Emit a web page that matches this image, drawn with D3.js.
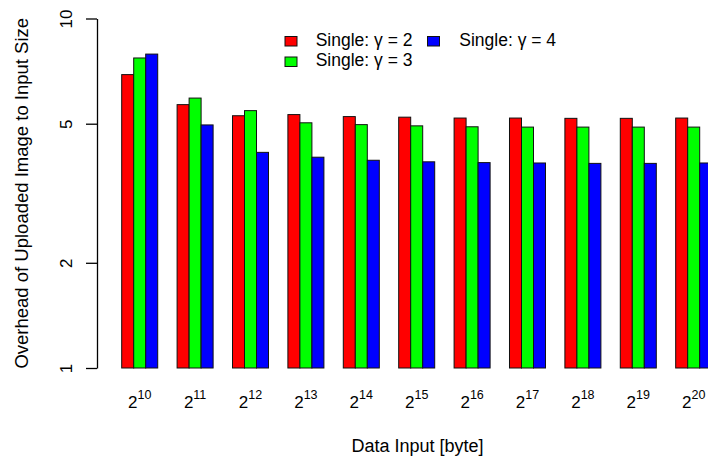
<!DOCTYPE html>
<html>
<head>
<meta charset="utf-8">
<script src="https://cdn.jsdelivr.net/npm/d3@7"></script>
<style>
  html, body { margin: 0; padding: 0; background: #fff; }
  svg { display: block; font-family: "Liberation Sans", Arial, sans-serif; }
</style>
</head>
<body>
<svg id="chart" width="708" height="461"></svg>
<script>
// Input sizes as powers of two (exponents) and the overhead ratios per gamma
const exponents = [10, 11, 12, 13, 14, 15, 16, 17, 18, 19, 20];
const seriesNames = ["Single: γ = 2", "Single: γ = 3", "Single: γ = 4"];
const gamma2 = [6.91, 5.67, 5.27, 5.31, 5.24, 5.22, 5.19, 5.19, 5.18, 5.18, 5.19];
const gamma3 = [7.71, 5.92, 5.45, 5.03, 4.97, 4.93, 4.90, 4.89, 4.89, 4.89, 4.89];
const gamma4 = [7.91, 4.96, 4.14, 4.01, 3.93, 3.89, 3.87, 3.86, 3.85, 3.85, 3.86];
const seriesColors = ["#ff0000", "#00ff00", "#0000ff"];
const yTicks = [1, 2, 5, 10];

const series = [gamma2, gamma3, gamma4];
const svg = d3.select("#chart");

const x = d3.scaleBand()
  .domain(exponents)
  .range([121.7, 711.7])
  .paddingInner(0.35)
  .paddingOuter(0);

const xInner = d3.scaleBand()
  .domain(d3.range(series.length))
  .range([0, x.bandwidth()]);

const y = d3.scaleLog()
  .domain([1, 10])
  .range([368, 18.5]);

// bars
const groups = svg.append("g").selectAll("g")
  .data(exponents)
  .join("g")
  .attr("transform", d => `translate(${x(d)},0)`);

groups.selectAll("rect")
  .data((d, i) => series.map((s, k) => ({ k, v: s[i] })))
  .join("rect")
  .attr("x", d => xInner(d.k))
  .attr("width", xInner.bandwidth())
  .attr("y", d => y(d.v))
  .attr("height", d => y(1) - y(d.v))
  .attr("fill", d => seriesColors[d.k])
  .attr("stroke", "#111")
  .attr("stroke-width", 1);

// y axis (log scale, labels parallel to the axis)
const yAxis = svg.append("g")
  .attr("transform", "translate(97,0)")
  .call(d3.axisLeft(y).tickValues(yTicks).tickFormat(d3.format("d")).tickSize(11).tickSizeOuter(0));
yAxis.select(".domain").attr("stroke-width", 1.3);
yAxis.selectAll(".tick line").attr("stroke-width", 1.3);
yAxis.selectAll(".tick text")
  .attr("x", null).attr("dy", null)
  .attr("transform", "translate(-25,0) rotate(-90)")
  .attr("text-anchor", "middle")
  .attr("font-size", 17)
  .attr("font-family", "Liberation Sans, Arial, sans-serif")
  .attr("fill", "#000");

// x labels: 2^n
const xLabels = svg.append("g").selectAll("text")
  .data(exponents)
  .join("text")
  .attr("x", d => x(d) + x.bandwidth() / 2)
  .attr("y", 408)
  .attr("text-anchor", "middle")
  .attr("font-size", 17);
xLabels.append("tspan").text("2");
xLabels.append("tspan")
  .attr("font-size", 12.5)
  .attr("dy", -9)
  .text(d => d);

// axis titles
svg.append("text")
  .attr("x", 417.5)
  .attr("y", 452)
  .attr("text-anchor", "middle")
  .attr("font-size", 18)
  .text("Data Input [byte]");

svg.append("text")
  .attr("transform", `translate(28,${(y(1) + y(10)) / 2}) rotate(-90)`)
  .attr("text-anchor", "middle")
  .attr("font-size", 18.5)
  .text("Overhead of Uploaded Image to Input Size");

// legend
const legendPos = [
  { bx: 285, by: 36.5, tx: 315.7, ty: 46 },
  { bx: 285, by: 57, tx: 315.7, ty: 66 },
  { bx: 427.5, by: 36.5, tx: 459.3, ty: 46 }
];
const legend = svg.append("g").selectAll("g")
  .data(seriesNames)
  .join("g");
legend.append("rect")
  .attr("x", (d, i) => legendPos[i].bx)
  .attr("y", (d, i) => legendPos[i].by)
  .attr("width", 12)
  .attr("height", 9.5)
  .attr("fill", (d, i) => seriesColors[i])
  .attr("stroke", "#111");
legend.append("text")
  .attr("x", (d, i) => legendPos[i].tx)
  .attr("y", (d, i) => legendPos[i].ty)
  .attr("font-size", 17.5)
  .text(d => d);
</script>
</body>
</html>
